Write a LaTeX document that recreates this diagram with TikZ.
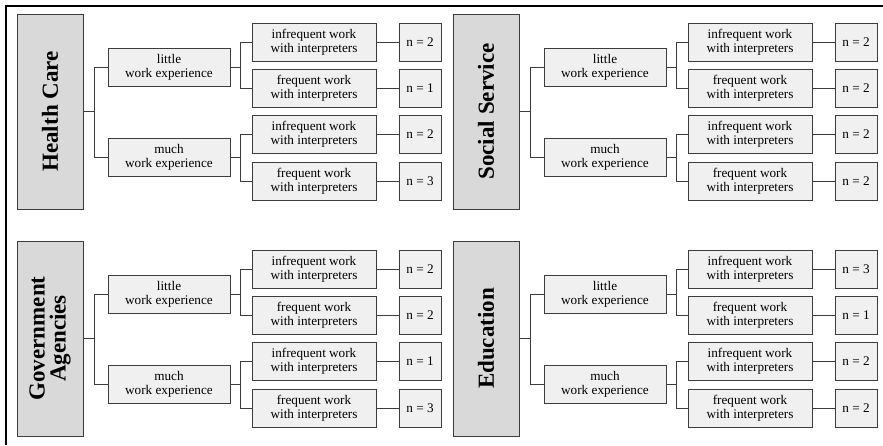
\documentclass[tikz,border=0pt]{standalone}
\usepackage{fontspec}
\setmainfont{Liberation Serif}
\definecolor{catfill}{HTML}{D9D9D9}
\definecolor{boxfill}{HTML}{F0F0F0}
\definecolor{edge}{HTML}{3C3C3C}
\tikzset{
  catbox/.style={draw=edge, line width=0.9pt, fill=catfill, minimum width=66pt, minimum height=195pt, inner sep=0pt},
  cattext/.style={rotate=90, align=center, font=\fontsize{23}{21}\selectfont\bfseries},
  expbox/.style={draw=edge, line width=0.9pt, fill=boxfill, minimum width=122pt, minimum height=38pt, inner sep=0pt, align=center, font=\fontsize{13.2}{14.3}\selectfont},
  freqbox/.style={expbox, minimum width=124pt},
  nbox/.style={expbox, minimum width=42pt},
  link/.style={draw=edge, line width=0.9pt},
  frame/.style={draw=black, line width=1.8pt}
}
\newcommand{\mypanel}[8]{%
  \begin{scope}[shift={(#2)}]
    \node[catbox] (#1cat) at (50,111.5) {};
    \node[cattext] (#1lab) at (#1cat.center) {#3};
    \node[expbox] (#1little) at (169,67) {little\\work experience};
    \node[expbox] (#1much) at (169,157.5) {much\\work experience};
    \node[freqbox] (#1a) at (314,42) {infrequent work\\with interpreters};
    \node[freqbox] (#1b) at (314,88) {frequent work\\with interpreters};
    \node[freqbox] (#1c) at (314,134.5) {infrequent work\\with interpreters};
    \node[freqbox] (#1d) at (314,181) {frequent work\\with interpreters};
    \node[nbox] (#1na) at (420,42) {n = #4};
    \node[nbox] (#1nb) at (420,88) {n = #5};
    \node[nbox] (#1nc) at (420,134.5) {n = #6};
    \node[nbox] (#1nd) at (420,181) {n = #7};
    \coordinate (#1j) at (94,111.5);
    \coordinate (#1jl) at (240,67);
    \coordinate (#1jm) at (240,157.5);
    \draw[link] (#1cat.east) -- (#1j) |- (#1little.west);
    \draw[link] (#1j) |- (#1much.west);
    \draw[link] (#1little.east) -- (#1jl) |- (#1a.west);
    \draw[link] (#1jl) |- (#1b.west);
    \draw[link] (#1much.east) -- (#1jm) |- (#1c.west);
    \draw[link] (#1jm) |- (#1d.west);
    \draw[link] (#1a.east) -- (#1na.west);
    \draw[link] (#1b.east) -- (#1nb.west);
    \draw[link] (#1c.east) -- (#1nc.west);
    \draw[link] (#1d.east) -- (#1nd.west);
  \end{scope}%
}
\begin{document}
\begin{tikzpicture}[x=1pt, y=-1pt]
  \useasboundingbox (0,0) rectangle (883,445);
  \coordinate (fbl) at (5.8,445);
  \coordinate (ftl) at (5.8,5.8);
  \coordinate (ftr) at (883,5.8);
  \draw[frame] (fbl) -- (ftl) -- (ftr);
  \mypanel{hc}{0,0}{Health Care}{2}{1}{2}{3}{}
  \mypanel{ss}{436,0}{Social Service}{2}{2}{2}{2}{}
  \mypanel{ga}{0,227}{Government\\Agencies}{2}{2}{1}{3}{}
  \mypanel{ed}{436,227}{Education}{3}{1}{2}{2}{}
\end{tikzpicture}
\end{document}
